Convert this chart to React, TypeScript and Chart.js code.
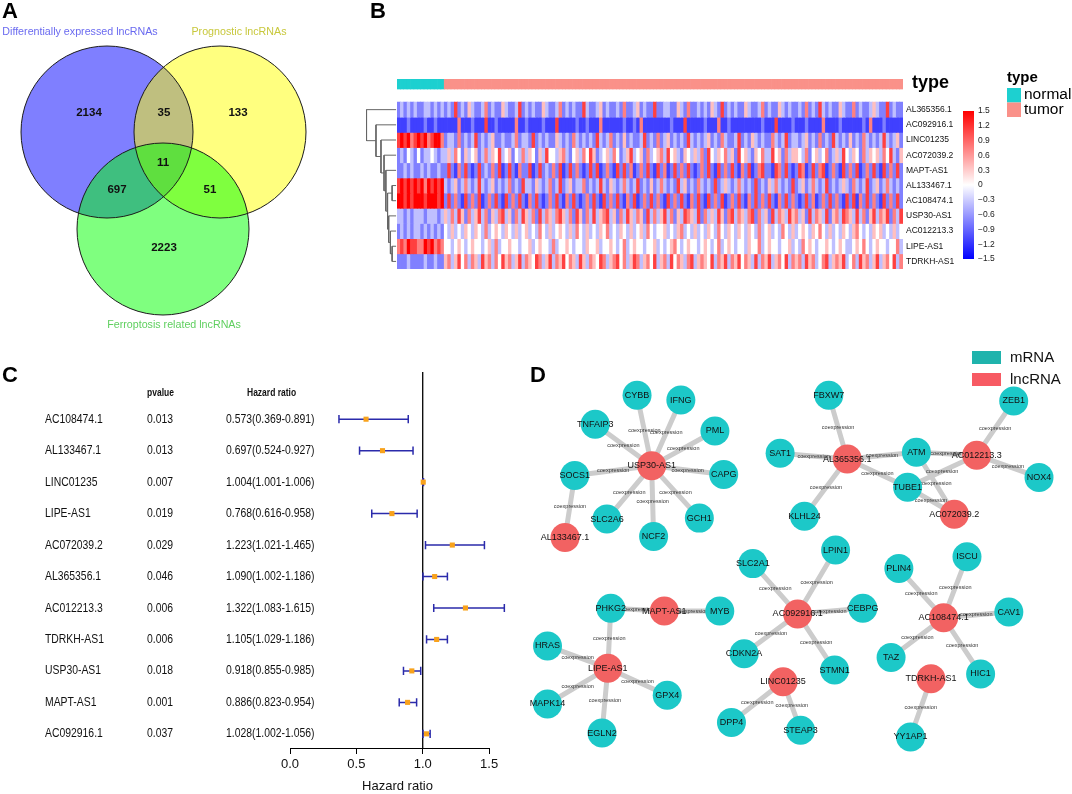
import React, { useEffect, useRef } from "react";
import { Chart, registerables } from "chart.js";
Chart.register(...registerables);

// ---------------- page ----------------
const W = 1072;
const H = 794;
const FONT = "'Liberation Sans', Arial, Helvetica, sans-serif";

// ---------------- Panel A : Venn ----------------
const VENN_SETS = ["Differentially expressed lncRNAs", "Prognostic lncRNAs", "Ferroptosis related lncRNAs"];
const VENN_CX = [107, 220, 163];
const VENN_CY = [132, 132, 229];
const VENN_R = [86, 86, 86];
const VENN_FILL = ["rgba(0,0,255,0.5)", "rgba(255,255,0,0.5)", "rgba(0,255,0,0.5)"];
const VENN_TEXT_COLORS = ["#6a6af0", "#c8c83c", "#5fcf5f"];
const VENN_SET_LABEL_X = [80, 239, 174];
const VENN_SET_LABEL_Y = [32, 32, 325];
const VENN_COUNTS = ["2134", "35", "133", "11", "697", "51", "2223"];
const VENN_COUNT_X = [89, 164, 238, 163, 117, 210, 164];
const VENN_COUNT_Y = [113, 113, 113, 163, 190, 190, 248];

// ---------------- Panel B : heatmap ----------------
const GENES = ["AL365356.1", "AC092916.1", "LINC01235", "AC072039.2", "MAPT-AS1", "AL133467.1", "AC108474.1", "USP30-AS1", "AC012213.3", "LIPE-AS1", "TDRKH-AS1"];
const SAMPLE_TYPES = ["normal", "tumor"];
const TYPE_COLORS = ["#1dd0d0", "#fa9189"];
const N_NORMAL = 14;
// expression level codes 0..8 -> HEAT_LEVELS (z-scores)
const HEAT_LEVELS = [-1.5, -1.125, -0.75, -0.375, 0, 0.375, 0.75, 1.125, 1.5];
const HEAT_ROWS = [
  "23232322332323 23272325 32236232 25322372 32322532 23623232 27322352 32232622 35232272 23322532 62232325 32723232 25322362 32253232 23262327 32322532 26232235 32272322",
  "11121111211211 11116111 21117112 11111611 21111211 17111112 11211161 11111211 21611111 11121117 11111211 16112111 11111121 11711112 11121111 61111211 11112161 11211111",
  "78786787867886 23326232 37232352 23223623 32723232 25323263 23232732 36232523 22372326 23523232 73232352 32632237 23253232 26323723 32352326 23273232 52326323 23732352",
  "23243242334323 35364253 45236354 73452436 35425374 43563245 36475234 53642357 34526345 63745325 43536274 35463527 45325463 37452635 54362453 46235374 35426354 53647325",
  "22323223232232 27216272 12723262 71272162 27127232 62712726 21272712 62172726 12627217 26127262 72126272 17262721 62712672 21762721 27612726 71262172 62712627 21726272",
  "78787878687878 32352363 23732352 32362327 33253236 23723523 36232373 25323632 37232523 63232735 23263232 72353236 32327232 53632327 23523632 37232353 26323723 52363232",
  "88787888788878 27262172 62712627 21726272 16272126 27216272 12627217 26272162 71262726 21726272 16272172 62712627 21627262 72162726 21272612 62726217 27162726 21726272",
  "33232333233323 53637526 35736253 67352637 53627365 36753627 52637356 73526375 36527363 57362537 65372635 37526736 53672635 27365375 63527365 37256376 53736257 36572637",
  "23232332323232 43534354 35436345 43543534 53436435 34543536 43534354 63435435 34536434 45343563 43534354 36435435 43543634 53436435 34543546 43534354 35643435 45343534",
  "67687766878676 44345434 54434536 34454434 45345443 63445434 43544534 45434634 54434453 43456434 54434543 46345434 43544634 54434453 43645434 45434543 34546434 54434463",
  "22232222322322 56357463 65375636 47563573 65476357 36574653 75365476 35674635 76356473 56374653 67356547 36573657 46537365 73564736 56375634 67356573 46375635 73564736",
].map((s) => s.replace(/ /g, ""));
// dendrogram merges: [childA, childB, height]; leaves 0..10, internal nodes 11..
const DENDRO_MERGES = [
  [5, 6, 3.5],
  [9, 10, 3.5],
  [8, 12, 5],
  [7, 13, 6.5],
  [11, 14, 7.5],
  [4, 15, 9],
  [3, 16, 10.6],
  [2, 17, 13.3],
  [1, 18, 17.7],
  [0, 19, 26],
];
const COLORBAR_MIN = -1.5;
const COLORBAR_MAX = 1.5;
const COLORBAR_STEP = 0.3;

// ---------------- Panel C : forest ----------------
const FOREST_GENES = ["AC108474.1", "AL133467.1", "LINC01235", "LIPE-AS1", "AC072039.2", "AL365356.1", "AC012213.3", "TDRKH-AS1", "USP30-AS1", "MAPT-AS1", "AC092916.1"];
const FOREST_P = ["0.013", "0.013", "0.007", "0.019", "0.029", "0.046", "0.006", "0.006", "0.018", "0.001", "0.037"];
const FOREST_HR = [0.573, 0.697, 1.004, 0.768, 1.223, 1.09, 1.322, 1.105, 0.918, 0.886, 1.028];
const FOREST_LO = [0.369, 0.524, 1.001, 0.616, 1.021, 1.002, 1.083, 1.029, 0.855, 0.823, 1.002];
const FOREST_HI = [0.891, 0.927, 1.006, 0.958, 1.465, 1.186, 1.615, 1.186, 0.985, 0.954, 1.056];
const FOREST_TICKS = [0, 0.5, 1, 1.5];

// ---------------- Panel D : network ----------------
const NODE_NAMES = ["USP30-AS1", "CYBB", "IFNG", "PML", "CAPG", "GCH1", "NCF2", "SLC2A6", "SOCS1", "TNFAIP3", "AL133467.1", "PHKG2", "MAPT-AS1", "MYB", "LIPE-AS1", "HRAS", "MAPK14", "EGLN2", "GPX4", "SLC2A1", "AC092916.1", "CDKN2A", "LINC01235", "DPP4", "STEAP3", "LPIN1", "CEBPG", "STMN1", "PLIN4", "ISCU", "AC108474.1", "CAV1", "TAZ", "HIC1", "TDRKH-AS1", "YY1AP1", "FBXW7", "AL365356.1", "SAT1", "KLHL24", "ATM", "TUBE1", "AC012213.3", "ZEB1", "NOX4", "AC072039.2"];
const NODE_X = [655, 640, 685, 720, 729, 704, 657, 609, 576, 597, 566, 613, 668, 725, 610, 548, 548, 604, 671, 759, 805, 750, 790, 737, 808, 844, 872, 843, 909, 979, 955, 1022, 901, 993, 942, 921, 837, 856, 787, 812, 927, 918, 989, 1027, 1053, 966];
const NODE_Y = [470, 397, 402, 434, 479, 524, 543, 525, 480, 427, 544, 617, 620, 620, 679, 656, 716, 746, 707, 571, 623, 664, 693, 735, 743, 557, 617, 681, 576, 564, 627, 621, 668, 685, 690, 750, 397, 463, 457, 522, 456, 492, 459, 403, 482, 520];
const LNC_NODES = ["USP30-AS1", "AL133467.1", "MAPT-AS1", "LIPE-AS1", "AC092916.1", "LINC01235", "AC108474.1", "TDRKH-AS1", "AL365356.1", "AC012213.3", "AC072039.2"];
const EDGES = [
  ["USP30-AS1", "CYBB"], ["USP30-AS1", "IFNG"], ["USP30-AS1", "PML"], ["USP30-AS1", "CAPG"], ["USP30-AS1", "GCH1"],
  ["USP30-AS1", "NCF2"], ["USP30-AS1", "SLC2A6"], ["USP30-AS1", "SOCS1"], ["USP30-AS1", "TNFAIP3"], ["SOCS1", "AL133467.1"],
  ["PHKG2", "MAPT-AS1"], ["MAPT-AS1", "MYB"], ["PHKG2", "LIPE-AS1"], ["LIPE-AS1", "HRAS"], ["LIPE-AS1", "MAPK14"],
  ["LIPE-AS1", "EGLN2"], ["LIPE-AS1", "GPX4"], ["AC092916.1", "SLC2A1"], ["AC092916.1", "CDKN2A"], ["AC092916.1", "LPIN1"],
  ["AC092916.1", "CEBPG"], ["AC092916.1", "STMN1"], ["LINC01235", "DPP4"], ["LINC01235", "STEAP3"], ["AC108474.1", "PLIN4"],
  ["AC108474.1", "ISCU"], ["AC108474.1", "CAV1"], ["AC108474.1", "TAZ"], ["AC108474.1", "HIC1"], ["TDRKH-AS1", "YY1AP1"],
  ["AL365356.1", "FBXW7"], ["AL365356.1", "SAT1"], ["AL365356.1", "KLHL24"], ["AL365356.1", "ATM"], ["AL365356.1", "TUBE1"],
  ["AC012213.3", "ATM"], ["AC012213.3", "TUBE1"], ["AC012213.3", "ZEB1"], ["AC012213.3", "NOX4"], ["AC072039.2", "ATM"],
  ["AC072039.2", "TUBE1"],
];
const EDGE_LABEL = "coexpression";
const NODE_TYPES = ["mRNA", "lncRNA"];
const NODE_COLORS = ["#1cc8c8", "#f26262"];
const NODE_LEGEND_COLORS = ["#1fb3ac", "#f75a63"];

// ---------------- helpers ----------------
function area(left: number, top: number, right: number, bottom: number) {
  return { left, top, right: W - right, bottom: H - bottom };
}

function drawText(ctx: CanvasRenderingContext2D, text: string, x: number, y: number, font: string, color: string, align: CanvasTextAlign = "left", sx = 1) {
  ctx.save();
  ctx.font = font;
  ctx.fillStyle = color;
  ctx.textAlign = align;
  ctx.textBaseline = "middle";
  ctx.translate(x, y);
  ctx.scale(sx, 1);
  ctx.fillText(text, 0, 0);
  ctx.restore();
}

function letter(ctx: CanvasRenderingContext2D, t: string, x: number, y: number) {
  drawText(ctx, t, x, y, `bold 22px ${FONT}`, "#000", "left");
}

function baseOptions(padding: any, scales: any) {
  return {
    responsive: false,
    animation: false,
    events: [],
    layout: { padding },
    plugins: { legend: { display: false }, tooltip: { enabled: false }, title: { display: false } },
    scales,
  };
}

function heatColor(v: number) {
  const t = Math.min(1, Math.abs(v) / 1.5);
  const c = Math.round(255 * (1 - t));
  return v < 0 ? `rgb(${c},${c},255)` : `rgb(255,${c},${c})`;
}

function levelAt(row: number, col: number) {
  const ch = HEAT_ROWS[row][col];
  const k = ch === undefined ? 4 : parseInt(ch, 10);
  return HEAT_LEVELS[isNaN(k) ? 4 : k];
}

const GAP = { x: NaN, y: NaN };

// ---------------- chart configs ----------------
function makeVenn() {
  const pts = VENN_CX.map((x, i) => ({ x, y: VENN_CY[i] }));
  const radius = (c: any) => {
    const s = c.chart.scales.x;
    return Math.abs(s.getPixelForValue(VENN_R[c.dataIndex]) - s.getPixelForValue(0));
  };
  const textPlugin = {
    id: "vennText",
    afterDatasetsDraw(chart: any) {
      const { ctx } = chart;
      const { x, y } = chart.scales;
      letter(ctx, "A", 2, 12);
      VENN_SETS.forEach((s, i) =>
        drawText(ctx, s, x.getPixelForValue(VENN_SET_LABEL_X[i]), y.getPixelForValue(VENN_SET_LABEL_Y[i]), `10.7px ${FONT}`, VENN_TEXT_COLORS[i], "center")
      );
      VENN_COUNTS.forEach((s, i) =>
        drawText(ctx, s, x.getPixelForValue(VENN_COUNT_X[i]), y.getPixelForValue(VENN_COUNT_Y[i]), `bold 11.5px ${FONT}`, "#111", "center")
      );
    },
  };
  return {
    type: "scatter",
    data: {
      datasets: [
        { data: pts, pointRadius: radius, pointBackgroundColor: "rgba(0,0,0,0)", pointBorderColor: "#1a1a1a", pointBorderWidth: 1, clip: false },
        { data: pts, pointRadius: radius, pointBackgroundColor: VENN_FILL, pointBorderWidth: 0, clip: false },
      ],
    },
    options: baseOptions(area(0, 0, 370, 360), {
      x: { type: "linear", min: 0, max: 370, display: false },
      y: { type: "linear", min: 0, max: 360, reverse: true, display: false },
    }),
    plugins: [textPlugin],
  };
}

function makeHeat() {
  const nCols = Math.max(...HEAT_ROWS.map((r) => r.length));
  const labels = Array.from({ length: nCols }, (_, i) => `S${i + 1}`);
  const common = { grouped: false, barPercentage: 1, categoryPercentage: 1, borderWidth: 0 };
  const datasets: any[] = [
    {
      ...common,
      label: "type",
      data: labels.map(() => [-1.52, -0.86]),
      backgroundColor: (c: any) => (c.dataIndex < N_NORMAL ? TYPE_COLORS[0] : TYPE_COLORS[1]),
    },
    ...GENES.map((g, r) => ({
      ...common,
      label: g,
      data: labels.map(() => [r, r + 1]),
      backgroundColor: (c: any) => heatColor(levelAt(r, c.dataIndex)),
    })),
  ];
  const textPlugin = {
    id: "heatText",
    afterDatasetsDraw(chart: any) {
      const { ctx, chartArea } = chart;
      const y = chart.scales.y;
      letter(ctx, "B", 370, 12);
      GENES.forEach((g, r) => drawText(ctx, g, chartArea.right + 3, y.getPixelForValue(r + 0.5), `8.5px ${FONT}`, "#111", "left"));
      drawText(ctx, "type", chartArea.right + 9, y.getPixelForValue(-1.19) - 1, `bold 18px ${FONT}`, "#000", "left");
      // legend
      drawText(ctx, "type", 1007, 78, `bold 15px ${FONT}`, "#000", "left");
      SAMPLE_TYPES.forEach((t, i) => {
        ctx.fillStyle = TYPE_COLORS[i];
        ctx.fillRect(1007, 88 + i * 14.5, 14, 14.5);
        drawText(ctx, t, 1024, 95 + i * 14.5, `15.5px ${FONT}`, "#000", "left");
      });
    },
  };
  return {
    type: "bar",
    data: { labels, datasets },
    options: baseOptions(area(397, 79, 903, 269), {
      x: { type: "category", display: false },
      y: { type: "linear", min: -1.52, max: 11, reverse: true, display: false },
    }),
    plugins: [textPlugin],
  };
}

function makeDendro() {
  const ys: number[] = GENES.map((_, i) => i + 0.5);
  const hs: number[] = GENES.map(() => 0);
  const pts: any[] = [];
  DENDRO_MERGES.forEach(([a, b, h]) => {
    pts.push({ x: hs[a], y: ys[a] }, { x: h, y: ys[a] }, { x: h, y: ys[b] }, { x: hs[b], y: ys[b] }, GAP);
    ys.push((ys[a] + ys[b]) / 2);
    hs.push(h);
  });
  return {
    type: "scatter",
    data: { datasets: [{ data: pts, showLine: true, spanGaps: false, pointRadius: 0, borderColor: "#666", borderWidth: 1, clip: false }] },
    options: baseOptions(area(362, 79, 397, 269), {
      x: { type: "linear", min: -0.8, max: 30, reverse: true, display: false },
      y: { type: "linear", min: -1.52, max: 11, reverse: true, display: false },
    }),
  };
}

function makeColorbar() {
  const fmt = (v: any) => {
    const n = Number(v);
    if (Math.abs(n) < 1e-9) return "0";
    return (n < 0 ? "\u2212" : "") + Math.abs(n).toFixed(1);
  };
  return {
    type: "bar",
    data: {
      labels: [""],
      datasets: [
        {
          data: [[COLORBAR_MIN, COLORBAR_MAX]],
          barPercentage: 1,
          categoryPercentage: 1,
          borderWidth: 0,
          backgroundColor: (c: any) => {
            const ys = c.chart.scales.y;
            if (!c.chart.chartArea || !ys) return "#fff";
            const g = c.chart.ctx.createLinearGradient(0, ys.getPixelForValue(COLORBAR_MIN), 0, ys.getPixelForValue(COLORBAR_MAX));
            g.addColorStop(0, heatColor(COLORBAR_MIN));
            g.addColorStop(0.5, heatColor(0));
            g.addColorStop(1, heatColor(COLORBAR_MAX));
            return g;
          },
        },
      ],
    },
    options: baseOptions(area(963, 111, 974 + 30, 259), {
      x: { type: "category", display: false },
      y: {
        type: "linear",
        min: COLORBAR_MIN,
        max: COLORBAR_MAX,
        position: "right",
        afterFit: (s: any) => {
          s.width = 30;
        },
        border: { display: false },
        grid: { display: false, drawTicks: false },
        ticks: { stepSize: COLORBAR_STEP, padding: 4, color: "#222", font: { size: 8.5, family: FONT }, callback: fmt },
      },
    }),
  };
}

function makeForest() {
  const hrPts = FOREST_HR.map((v, i) => ({ x: v, y: i }));
  const ciPts: any[] = [];
  const capPts: any[] = [];
  const cap = 0.13;
  FOREST_HR.forEach((_, i) => {
    ciPts.push({ x: FOREST_LO[i], y: i }, { x: FOREST_HI[i], y: i }, GAP);
    capPts.push({ x: FOREST_LO[i], y: i - cap }, { x: FOREST_LO[i], y: i + cap }, GAP);
    capPts.push({ x: FOREST_HI[i], y: i - cap }, { x: FOREST_HI[i], y: i + cap }, GAP);
  });
  const textPlugin = {
    id: "forestText",
    afterDraw(chart: any) {
      const { ctx, chartArea } = chart;
      const { x, y } = chart.scales;
      letter(ctx, "C", 2, 376);
      drawText(ctx, "pvalue", 147, 393, `bold 10px ${FONT}`, "#111", "left", 0.85);
      drawText(ctx, "Hazard ratio", 247, 393, `bold 10px ${FONT}`, "#111", "left", 0.85);
      FOREST_GENES.forEach((g, i) => {
        const py = y.getPixelForValue(i);
        drawText(ctx, g, 45, py, `13px ${FONT}`, "#111", "left", 0.8);
        drawText(ctx, FOREST_P[i], 147, py, `13px ${FONT}`, "#111", "left", 0.8);
        const txt = `${FOREST_HR[i].toFixed(3)}(${FOREST_LO[i].toFixed(3)}-${FOREST_HI[i].toFixed(3)})`;
        drawText(ctx, txt, 226, py, `13px ${FONT}`, "#111", "left", 0.8);
      });
      // axis line from first to last tick
      ctx.save();
      ctx.strokeStyle = "#000";
      ctx.lineWidth = 1;
      ctx.beginPath();
      ctx.moveTo(x.getPixelForValue(FOREST_TICKS[0]), chartArea.bottom + 0.5);
      ctx.lineTo(x.getPixelForValue(FOREST_TICKS[FOREST_TICKS.length - 1]), chartArea.bottom + 0.5);
      ctx.stroke();
      ctx.restore();
    },
  };
  return {
    type: "scatter",
    data: {
      datasets: [
        { data: hrPts, pointStyle: "rect", pointRadius: 3.6, pointBackgroundColor: "#f8a21c", pointBorderWidth: 0, clip: false },
        { data: ciPts, showLine: true, spanGaps: false, pointRadius: 0, borderColor: "#2b2bab", borderWidth: 1.5, clip: false },
        { data: capPts, showLine: true, spanGaps: false, pointRadius: 0, borderColor: "#2b2bab", borderWidth: 1.5, clip: false },
        { data: [{ x: 1, y: -1.5 }, { x: 1, y: 10.45 }], showLine: true, pointRadius: 0, borderColor: "#000", borderWidth: 1.3, clip: false },
      ],
    },
    options: baseOptions(area(290, 372, 505, 794), {
      x: {
        type: "linear",
        min: 0,
        max: 1.62,
        position: "bottom",
        afterFit: (s: any) => {
          s.height = 46;
        },
        afterBuildTicks: (s: any) => {
          s.ticks = FOREST_TICKS.map((v) => ({ value: v }));
        },
        border: { display: false },
        grid: { display: true, drawOnChartArea: false, drawTicks: true, tickLength: 6, color: "#000", lineWidth: 1 },
        ticks: { padding: 3, color: "#111", font: { size: 13, family: FONT }, callback: (v: any) => Number(v).toFixed(1), maxRotation: 0, autoSkip: false },
        title: { display: true, text: "Hazard ratio", color: "#111", font: { size: 13, family: FONT }, padding: { top: 0, bottom: 0 } },
      },
      y: { type: "linear", min: -1.5, max: 10.45, reverse: true, display: false },
    }),
    plugins: [textPlugin],
  };
}

function makeNetwork() {
  const idx = (n: string) => NODE_NAMES.indexOf(n);
  const edgePts: any[] = [];
  EDGES.forEach(([a, b]) => {
    const i = idx(a);
    const j = idx(b);
    edgePts.push({ x: NODE_X[i], y: NODE_Y[i] }, { x: NODE_X[j], y: NODE_Y[j] }, GAP);
  });
  const nodesOf = (lnc: boolean) =>
    NODE_NAMES.map((n, i) => ({ n, i })).filter((o) => LNC_NODES.includes(o.n) === lnc).map((o) => ({ x: NODE_X[o.i], y: NODE_Y[o.i] }));
  const plugin = {
    id: "netText",
    afterDatasetDraw(chart: any, args: any) {
      if (args.index !== 0) return;
      const { ctx } = chart;
      const { x, y } = chart.scales;
      EDGES.forEach(([a, b]) => {
        const i = idx(a);
        const j = idx(b);
        const mx = x.getPixelForValue((NODE_X[i] + NODE_X[j]) / 2);
        const my = y.getPixelForValue((NODE_Y[i] + NODE_Y[j]) / 2);
        drawText(ctx, EDGE_LABEL, mx, my, `5.5px ${FONT}`, "#333", "center");
      });
    },
    afterDatasetsDraw(chart: any) {
      const { ctx } = chart;
      const { x, y } = chart.scales;
      letter(ctx, "D", 530, 376);
      NODE_NAMES.forEach((n, i) => drawText(ctx, n, x.getPixelForValue(NODE_X[i]), y.getPixelForValue(NODE_Y[i]), `9px ${FONT}`, "#111", "center"));
      NODE_TYPES.forEach((t, k) => {
        ctx.fillStyle = NODE_LEGEND_COLORS[k];
        ctx.fillRect(972, 351 + k * 22, 29, 13);
        drawText(ctx, t, 1010, 357.5 + k * 22, `15px ${FONT}`, "#111", "left");
      });
    },
  };
  return {
    type: "scatter",
    data: {
      datasets: [
        { data: edgePts, showLine: true, spanGaps: false, pointRadius: 0, borderColor: "#cccccc", borderWidth: 5, order: 3, clip: false },
        { label: NODE_TYPES[0], data: nodesOf(false), pointRadius: 14.5, pointBackgroundColor: NODE_COLORS[0], pointBorderWidth: 0, order: 2, clip: false },
        { label: NODE_TYPES[1], data: nodesOf(true), pointRadius: 14.5, pointBackgroundColor: NODE_COLORS[1], pointBorderWidth: 0, order: 1, clip: false },
      ],
    },
    options: baseOptions(area(530, 340, 1072, 794), {
      x: { type: "linear", min: 530, max: 1072, display: false },
      y: { type: "linear", min: 340, max: 794, reverse: true, display: false },
    }),
    plugins: [plugin],
  };
}

// ---------------- components ----------------
function ChartCanvas({ make }: { make: () => any }) {
  const ref = useRef<HTMLCanvasElement>(null);
  useEffect(() => {
    const chart = new Chart(ref.current as HTMLCanvasElement, make());
    return () => chart.destroy();
  }, []);
  return <canvas ref={ref} width={W} height={H} style={{ position: "absolute", left: 0, top: 0, width: W, height: H }} />;
}

export default function App() {
  Chart.defaults.font.family = FONT;
  return (
    <div style={{ position: "absolute", left: 0, top: 0, width: W, height: H, background: "#fff", overflow: "hidden" }}>
      <ChartCanvas make={makeVenn} />
      <ChartCanvas make={makeDendro} />
      <ChartCanvas make={makeHeat} />
      <ChartCanvas make={makeColorbar} />
      <ChartCanvas make={makeForest} />
      <ChartCanvas make={makeNetwork} />
    </div>
  );
}
